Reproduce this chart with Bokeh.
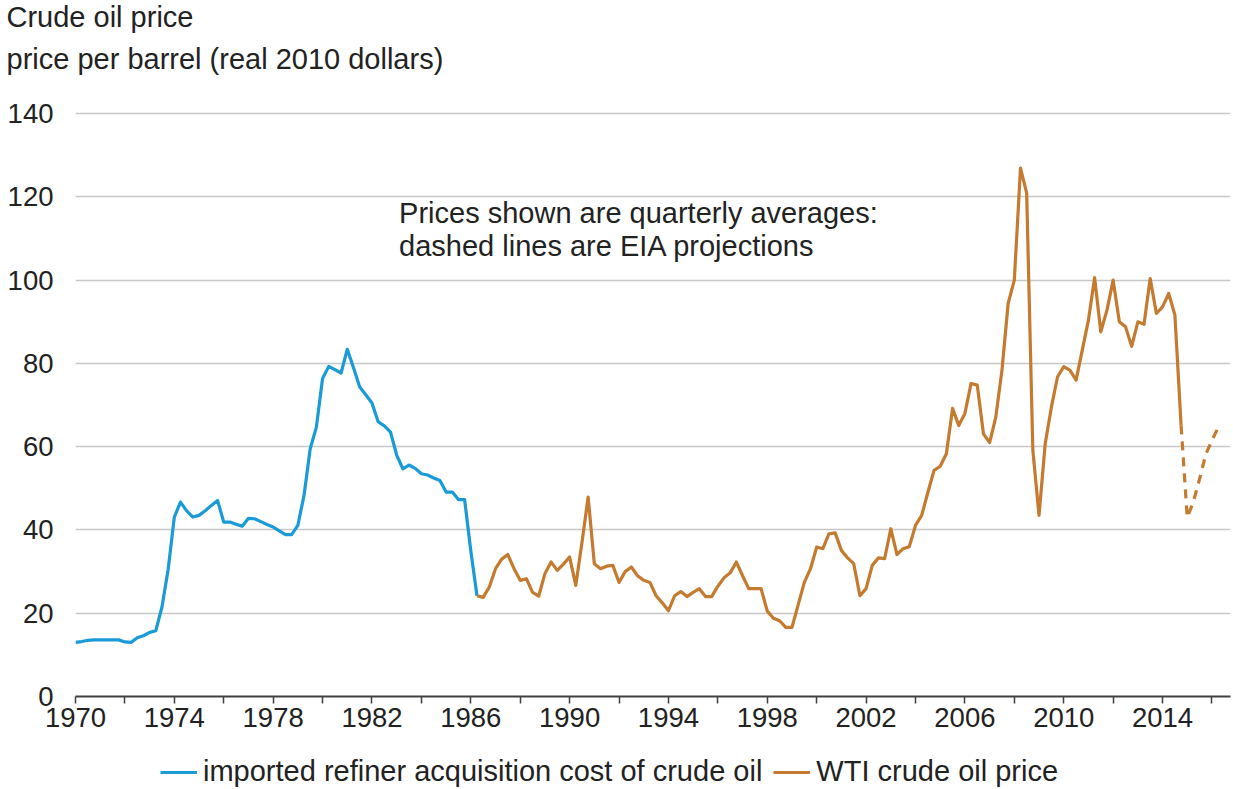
from bokeh.plotting import figure
from bokeh.layouts import column
from bokeh.models import Range1d, FixedTicker, Label, Legend, LegendItem, Title
from bokeh.embed import file_html
from bokeh.resources import INLINE

# ---------------- data (quarterly, real 2010 dollars per barrel) ----------------
imported_start = 1970.0
imported_rac = [
    13.0, 13.2, 13.5, 13.6,
    13.6, 13.6, 13.6, 13.6,
    13.1, 13.0, 14.1, 14.6,
    15.4, 15.8, 21.5, 30.5,
    43.1, 46.7, 44.6, 43.1,
    43.5, 44.6, 45.9, 47.1,
    41.9, 41.9, 41.4, 40.9,
    42.8, 42.7, 42.0, 41.3,
    40.7, 39.8, 38.9, 38.9,
    41.1, 48.3, 59.5, 64.7,
    76.4, 79.3, 78.5, 77.7,
    83.4, 79.0, 74.4, 72.5,
    70.5, 66.0, 65.0, 63.5,
    58.0, 54.7, 55.6, 54.8,
    53.5, 53.2, 52.5, 51.9,
    49.1, 49.1, 47.3, 47.3,
    35.0, 24.2,
]

wti_start = 1986.25
wti_price = [
    24.2, 23.8, 26.3,
    30.7, 33.0, 34.1, 30.7,
    27.9, 28.3, 25.0, 24.1,
    29.5, 32.3, 30.3, 31.8,
    33.5, 26.7, 37.0, 47.9,
    31.9, 30.7, 31.3, 31.5,
    27.4, 30.0, 31.1, 29.0,
    27.9, 27.4, 24.2, 22.5,
    20.6, 24.2, 25.2, 24.0,
    25.0, 25.9, 24.0, 24.0,
    26.5, 28.5, 29.7, 32.3,
    29.0, 25.9, 25.9, 25.9,
    20.5, 18.8, 18.2, 16.6,
    16.6, 22.0, 27.4, 30.7,
    35.9, 35.5, 39.1, 39.3,
    35.1, 33.3, 31.9, 24.2,
    25.9, 31.5, 33.3, 33.1,
    40.3, 34.1, 35.5, 36.0,
    41.1, 43.5, 49.0, 54.3,
    55.3, 58.3, 69.2, 65.1,
    68.0, 75.2, 74.8, 63.1,
    61.0, 67.1, 78.4, 94.4,
    100.0, 126.9, 120.9, 59.1,
    43.5, 60.7, 69.5, 76.8,
    79.2, 78.4, 76.0, 83.2,
    90.4, 100.6, 87.6, 92.8,
    100.0, 90.0, 88.8, 84.1,
    90.0, 89.4, 100.4, 92.0,
    93.6, 96.8, 91.6, 65.1,
]

proj_start = 2014.75
wti_projection = [65.1, 43.0, 46.8, 52.3, 58.2, 61.5, 64.6]

y_ticks = [0, 20, 40, 60, 80, 100, 120, 140]
x_ticks = list(range(1970, 2017, 2))
x_labelled = list(range(1970, 2017, 4))

title_text = "Crude oil price"
subtitle_text = "price per barrel (real 2010 dollars)"
note_lines = ["Prices shown are quarterly averages:", "dashed lines are EIA projections"]
legend_labels = ["imported refiner acquisition cost of crude oil", "WTI crude oil price"]

BLUE = "#1a9bd7"
BROWN = "#c47a2f"
TEXT = "#222222"
FONT = "Liberation Sans"
LW = 3.2


def quarters(start, n):
    return [start + 0.25 * i for i in range(n)]


# ---------------- main chart ----------------
p = figure(width=1233, height=746, title_location=None,
           x_range=Range1d(1970, 2016.75), y_range=Range1d(0, 141),
           output_backend="svg", toolbar_location=None,
           min_border_left=75, min_border_right=3,
           min_border_top=0, min_border_bottom=50)
p.outline_line_color = None
p.background_fill_color = "white"
p.border_fill_color = "white"

p.xgrid.grid_line_color = None
p.ygrid.grid_line_color = "#c8c8c8"
p.ygrid.grid_line_width = 1.5
p.ygrid.ticker = FixedTicker(ticks=y_ticks)

ya = p.yaxis[0]
ya.ticker = FixedTicker(ticks=y_ticks)
ya.axis_line_color = None
ya.major_tick_line_color = None
ya.minor_tick_line_color = None
ya.major_label_standoff = 16
ya.major_label_text_font = FONT
ya.major_label_text_font_size = "27.5px"
ya.major_label_text_color = TEXT

xa = p.xaxis[0]
xa.ticker = FixedTicker(ticks=x_ticks)
xa.major_label_overrides = {t: ("" if t not in x_labelled else str(t)) for t in x_ticks}
xa.axis_line_color = "#404040"
xa.axis_line_width = 2
xa.major_tick_line_color = "#404040"
xa.major_tick_line_width = 1.5
xa.major_tick_in = 0
xa.major_tick_out = 7
xa.minor_tick_line_color = None
xa.major_label_standoff = 4
xa.major_label_text_font = FONT
xa.major_label_text_font_size = "27.5px"
xa.major_label_text_color = TEXT

p.line(quarters(imported_start, len(imported_rac)), imported_rac,
       line_color=BLUE, line_width=LW, line_join="round")
p.line(quarters(wti_start, len(wti_price)), wti_price,
       line_color=BROWN, line_width=LW, line_join="round")
p.line(quarters(proj_start, len(wti_projection)), wti_projection,
       line_color=BROWN, line_width=LW, line_dash="9 7")

# titles stacked above the frame (first added = nearest to the frame)
spacer = Title(text=" ", text_font_size="1px", standoff=26, vertical_align="top")
subtitle = Title(text=subtitle_text, text_font=FONT, text_font_size="29px",
                 text_color=TEXT, text_font_style="normal", align="left",
                 vertical_align="bottom", standoff=12, offset=-69)
title = Title(text=title_text, text_font=FONT, text_font_size="29px",
              text_color=TEXT, text_font_style="normal", align="left",
              vertical_align="top", standoff=0, offset=-69)
p.add_layout(spacer, "above")
p.add_layout(subtitle, "above")
p.add_layout(title, "above")

x_px = 24.7        # pixels per year on the frame
y_px = 582 / 140   # pixels per dollar on the frame


def dx(px):
    return 1970 + px / x_px


def dy(px_above_zero):
    return px_above_zero / y_px


for txt, base in zip(note_lines, [483, 450]):
    p.add_layout(Label(x=dx(323.5), y=dy(base), text=txt, text_font=FONT,
                       text_font_size="29px", text_color=TEXT,
                       text_baseline="alphabetic", text_align="left"))

# ---------------- legend strip below the chart ----------------
lg = figure(width=1233, height=43, output_backend="svg", toolbar_location=None,
            x_axis_location=None, y_axis_location=None, title_location=None,
            x_range=Range1d(0, 1), y_range=Range1d(0, 1),
            min_border_left=0, min_border_right=0, min_border_top=0, min_border_bottom=0)
lg.outline_line_color = None
lg.xgrid.visible = False
lg.ygrid.visible = False
# helper renderers (kept outside the visible range) that supply the legend swatches
lg_blue = lg.line(x=[0, 1], y=[-5, -5], line_color=BLUE, line_width=LW)
lg_wti = lg.line(x=[0, 1], y=[-5, -5], line_color=BROWN, line_width=LW)

legend = Legend(items=[LegendItem(label=legend_labels[0], renderers=[lg_blue]),
                       LegendItem(label=legend_labels[1], renderers=[lg_wti])],
                location=(85, 1), orientation="horizontal",
                glyph_width=37, glyph_height=30, label_standoff=6,
                padding=0, margin=0, spacing=11,
                border_line_color=None, background_fill_alpha=0,
                label_text_font=FONT, label_text_font_size="29px",
                label_text_color=TEXT)
lg.add_layout(legend)

layout = column(p, lg, spacing=0)
open("out.html", "w").write(file_html(layout, INLINE))
